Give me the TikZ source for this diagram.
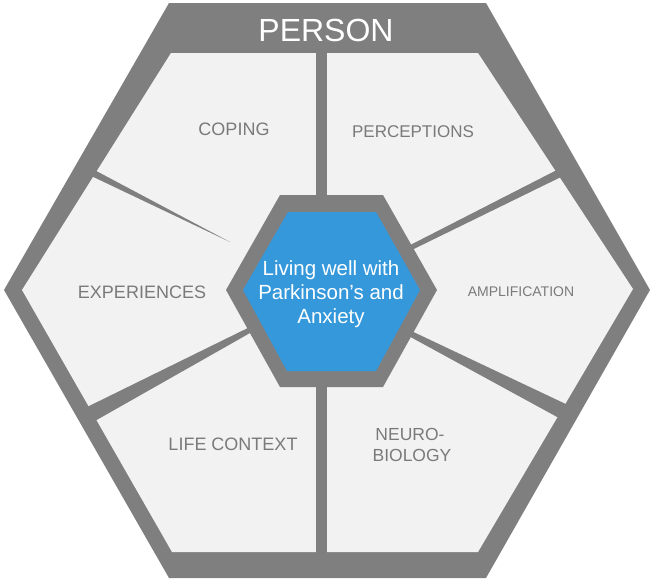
\documentclass[tikz,border=0pt]{standalone}
\usepackage{fontspec}
\setmainfont{Liberation Sans}
\definecolor{framec}{HTML}{7F7F7F}
\definecolor{panelc}{HTML}{F2F2F2}
\definecolor{labelc}{HTML}{7A7A7A}
\definecolor{bluec}{HTML}{3498DB}
\newcommand\setfs[1]{\fontsize{#1}{#1}\selectfont}
\begin{document}
\begin{tikzpicture}[x=1pt,y=-1pt,
  framefill/.style={fill=framec,draw=none},
  panelfill/.style={fill=panelc,draw=none},
  lbl/.style={text=labelc,inner sep=0pt,anchor=base},
  wtxt/.style={text=white,inner sep=0pt,anchor=base}]
\useasboundingbox (0,0) rectangle (654,581);
% outer frame
\fill[framefill] (4,290) -- (169,3) -- (486,3) -- (650,290) -- (486,578) -- (169,578) -- cycle;
% panel area
\fill[panelfill] (22,290) -- (171,53) -- (478,53) -- (633,289) -- (478,552) -- (172,552) -- cycle;
% separators
\fill[framefill] (316,45) rectangle (327,200);
\fill[framefill] (316,380) rectangle (327,560);
\fill[framefill] (85,165) -- (230,242) -- (85,173) -- cycle;
\fill[framefill] (405,247.7) -- (570,163.3) -- (570,172.6) -- (405,253.3) -- cycle;
\fill[framefill] (405,328) -- (570,406) -- (570,424) -- (405,334) -- cycle;
\fill[framefill] (258,323) -- (85,408) -- (85,426.6) -- (258,328.5) -- cycle;
% centre hexagon
\fill[framefill] (226,290) -- (280,195) -- (383,195) -- (437,290) -- (383,387) -- (280,387) -- cycle;
\fill[bluec] (243,290) -- (288,212) -- (376,212) -- (420,290) -- (376,371) -- (287,371) -- cycle;
% texts
\node[wtxt,font=\setfs{32}] (person) at (326,41) {PERSON};
\node[lbl,font=\setfs{18}] (coping) at (234,135) {COPING};
\node[lbl,font=\setfs{17}] (perc) at (413,137) {PERCEPTIONS};
\node[lbl,font=\setfs{18}] (exp) at (142,298) {EXPERIENCES};
\node[lbl,font=\setfs{14}] (ampl) at (521,296.5) {AMPLIFICATION};
\node[lbl,font=\setfs{18}] (life) at (233,450.5) {LIFE CONTEXT};
\node[lbl,font=\setfs{17.5}] (neuro) at (410,440) {NEURO-};
\node[lbl,font=\setfs{17.5}] (bio) at (412,461.5) {BIOLOGY};
\node[wtxt,font=\setfs{20.5}] (c1) at (331,275) {Living well with};
\node[wtxt,font=\setfs{20.5}] (c2) at (331,299) {Parkinson’s and};
\node[wtxt,font=\setfs{20.5}] (c3) at (331,323) {Anxiety};
\end{tikzpicture}
\end{document}
